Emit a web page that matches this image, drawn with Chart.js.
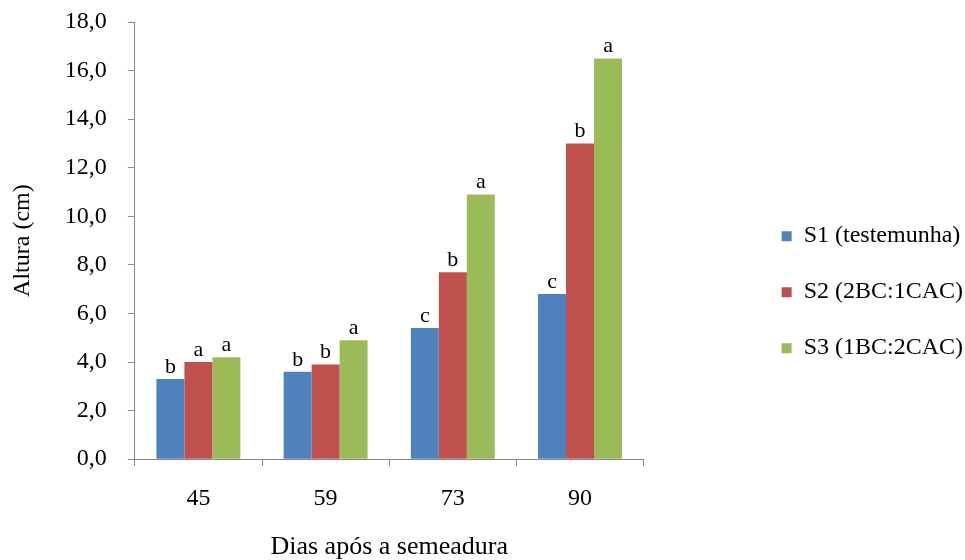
<!DOCTYPE html>
<html>
<head>
<meta charset="utf-8">
<script src="https://cdn.jsdelivr.net/npm/chart.js@4.4.0/dist/chart.umd.min.js"></script>
<style>
  html, body { margin: 0; padding: 0; background: #fff; }
  #wrap { width: 965px; height: 560px; }
</style>
</head>
<body>
<div id="wrap"><canvas id="myChart"></canvas></div>
<script>
// dados
const dias = ["45", "59", "73", "90"];
const s1 = [3.3, 3.6, 5.4, 6.8];
const s2 = [4.0, 3.9, 7.7, 13.0];
const s3 = [4.2, 4.9, 10.9, 16.5];
const letrasS1 = ["b", "b", "c", "c"];
const letrasS2 = ["a", "b", "b", "b"];
const letrasS3 = ["a", "a", "a", "a"];
const nomes = ["S1 (testemunha)", "S2 (2BC:1CAC)", "S3 (1BC:2CAC)"];
const cores = ["#4F81BD", "#C0504D", "#9BBB59"];

const serif = "'Liberation Serif', 'Times New Roman', serif";
Chart.defaults.font.family = serif;
Chart.defaults.color = "#000";

// letras da comparação de médias em cima de cada barra
const letrasPlugin = {
    id: 'letras',
    afterDatasetsDraw(chart) {
        const ctx = chart.ctx;
        const todas = [letrasS1, letrasS2, letrasS3];
        ctx.save();
        ctx.font = "22px " + serif;
        ctx.fillStyle = "#000";
        ctx.textAlign = "center";
        ctx.textBaseline = "alphabetic";
        chart.data.datasets.forEach((ds, i) => {
            chart.getDatasetMeta(i).data.forEach((bar, j) => {
                ctx.fillText(todas[i][j], bar.x, bar.y - 6);
            });
        });
        ctx.restore();
    }
};

const ctx = document.getElementById('myChart').getContext('2d');
const myChart = new Chart(ctx, {
    type: 'bar',
    data: {
        labels: dias,
        datasets: [
            { label: nomes[0], data: s1, backgroundColor: cores[0] },
            { label: nomes[1], data: s2, backgroundColor: cores[1] },
            { label: nomes[2], data: s3, backgroundColor: cores[2] }
        ]
    },
    options: {
        responsive: true,
        maintainAspectRatio: false,
        animation: false,
        layout: { padding: { top: 8, left: 8, right: -8, bottom: 0 } },
        datasets: { bar: { categoryPercentage: 0.66, barPercentage: 1.0 } },
        plugins: {
            tooltip: { enabled: false },
            legend: {
                position: 'right',
                maxWidth: 320,
                title: { display: true, text: '', padding: { top: 2, bottom: 0 } },
                labels: {
                    boxWidth: 10, boxHeight: 10, padding: 32,
                    font: { size: 24 }
                }
            }
        },
        scales: {
            x: {
                grid: { drawOnChartArea: false, color: "#888", tickLength: 7, offset: true },
                border: { color: "#888" },
                ticks: { font: { size: 24 }, padding: 18 },
                title: { display: true, text: "Dias após a semeadura", font: { size: 26, lineHeight: 1.0 }, padding: { top: 3, bottom: 0 } }
            },
            y: {
                min: 0, max: 18,
                ticks: { stepSize: 2, font: { size: 24 }, padding: 21,
                    callback: v => v.toFixed(1).replace('.', ',') },
                grid: { drawOnChartArea: false, color: "#888", tickLength: 7 },
                border: { color: "#888" },
                title: { display: true, text: "Altura (cm)", font: { size: 24 }, padding: { top: 0, bottom: 7 } },
                afterFit(s) { s.paddingTop = 22; s.paddingBottom = 14; }
            },
            espaco: {
                position: 'right', display: true,
                grid: { display: false }, border: { display: false },
                ticks: { display: false },
                afterFit(s) { s.width = 106; }
            }
        }
    },
    plugins: [letrasPlugin]
});
</script>
</body>
</html>
